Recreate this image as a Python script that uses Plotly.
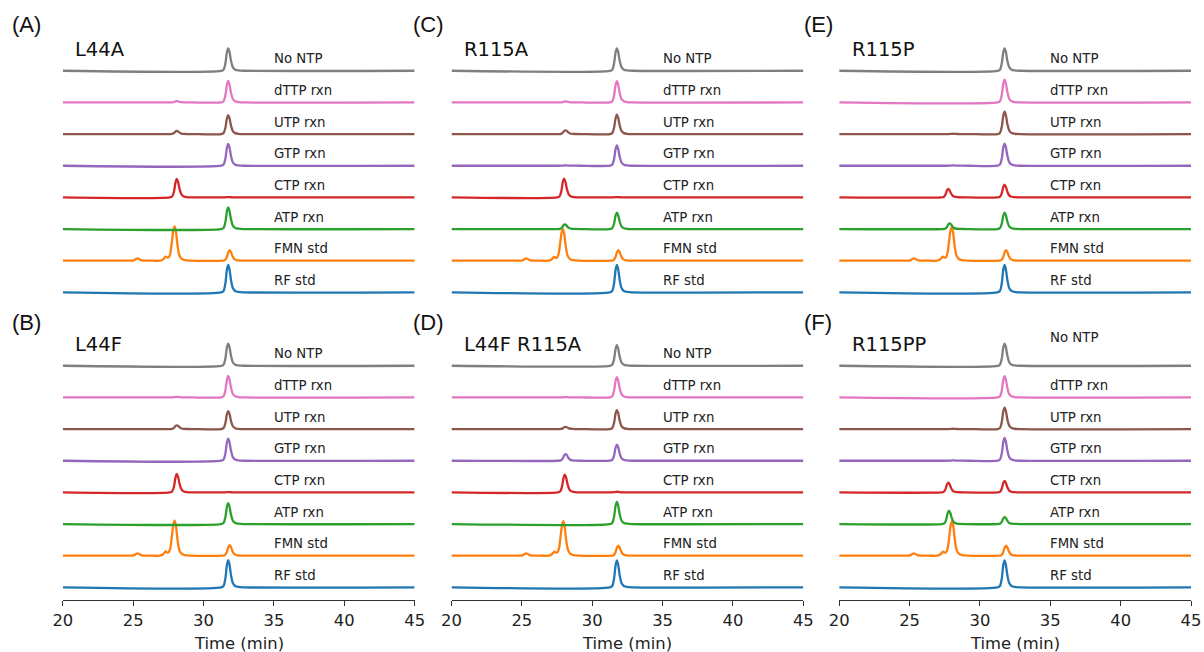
import plotly.graph_objects as go

# ---------------- data ----------------
T_START, T_END = 20.0, 45.0
X_TICKS = [20, 25, 30, 35, 40, 45]

# traces, bottom to top
LABELS = ["RF std", "FMN std", "ATP rxn", "CTP rxn", "GTP rxn", "UTP rxn", "dTTP rxn", "No NTP"]
COLORS = ["#1f77b4", "#ff7f0e", "#2ca02c", "#d62728", "#9467bd", "#8c564b", "#e377c2", "#7f7f7f"]

PANEL_TAGS = ["(A)", "(B)", "(C)", "(D)", "(E)", "(F)"]
MUTANTS = ["L44A", "L44F", "R115A", "L44F R115A", "R115P", "R115PP"]

# riboflavin peak (~31.75 min) retention time per trace
RF_TIMES = [31.75, 31.85, 31.75, 31.75, 31.75, 31.75, 31.75, 31.75]

# riboflavin peak heights (in units of trace spacing), order as LABELS
RF_A = [0.87, 0.33, 0.68, 0.01, 0.69, 0.60, 0.68, 0.71]
RF_B = [0.86, 0.33, 0.66, 0.01, 0.70, 0.57, 0.68, 0.70]
RF_C = [0.87, 0.33, 0.52, 0.01, 0.64, 0.61, 0.67, 0.71]
RF_D = [0.85, 0.32, 0.70, 0.02, 0.51, 0.60, 0.64, 0.65]
RF_E = [0.87, 0.33, 0.52, 0.40, 0.70, 0.71, 0.72, 0.71]
RF_F = [0.85, 0.32, 0.22, 0.36, 0.72, 0.68, 0.67, 0.70]

# early (~28 min) peak heights, order as LABELS (FMN std = FMN main peak)
EARLY_A = [0.0, 1.08, 0.0, 0.58, 0.0, 0.10, 0.04, 0.0]
EARLY_B = [0.0, 1.11, 0.0, 0.58, 0.0, 0.12, 0.02, 0.0]
EARLY_C = [0.0, 1.00, 0.15, 0.59, 0.01, 0.12, 0.03, 0.0]
EARLY_D = [0.0, 1.09, 0.0, 0.56, 0.21, 0.07, 0.01, 0.0]
EARLY_E = [0.0, 1.06, 0.18, 0.27, 0.01, 0.01, 0.0, 0.0]
EARLY_F = [0.0, 1.09, 0.42, 0.31, 0.01, 0.01, 0.0, 0.0]

# early peak retention times (min), order as LABELS
ETIME_A = [28.1, 27.95, 28.1, 28.1, 28.1, 28.1, 28.1, 28.1]
ETIME_B = [28.1, 27.95, 28.1, 28.1, 28.1, 28.1, 28.1, 28.1]
ETIME_C = [28.1, 27.92, 28.05, 28.0, 28.1, 28.1, 28.1, 28.1]
ETIME_D = [28.1, 27.95, 28.1, 28.05, 28.1, 28.1, 28.1, 28.1]
ETIME_E = [28.1, 28.0, 27.85, 27.75, 28.1, 28.1, 28.1, 28.1]
ETIME_F = [28.1, 28.02, 27.8, 27.75, 28.1, 28.1, 28.1, 28.1]

# small FMN-standard impurity peak
FMN_MINOR_TIME = 25.3
FMN_MINOR_HEIGHT = 0.07

# measured peak profile (time offset from apex, fraction of apex height)
PEAK_DT = [-0.5, -0.33, -0.2, -0.09, 0.0, 0.09, 0.2, 0.33, 0.5, 0.72, 1.1]
PEAK_REL = [0.0, 0.05, 0.32, 0.82, 1.0, 0.85, 0.45, 0.16, 0.05, 0.015, 0.0]

# measured FMN main peak profile with its leading shoulder
FMN_DT = [-1.05, -0.82, -0.64, -0.52, -0.42, -0.31, -0.2, -0.09, 0.0, 0.09, 0.2, 0.33, 0.5, 0.72, 1.1]
FMN_REL = [0.0, 0.04, 0.12, 0.09, 0.10, 0.22, 0.55, 0.9, 1.0, 0.85, 0.45, 0.16, 0.05, 0.015, 0.0]

RF_HEIGHTS = [RF_A, RF_B, RF_C, RF_D, RF_E, RF_F]
EARLY_HEIGHTS = [EARLY_A, EARLY_B, EARLY_C, EARLY_D, EARLY_E, EARLY_F]
EARLY_TIMES = [ETIME_A, ETIME_B, ETIME_C, ETIME_D, ETIME_E, ETIME_F]

# ---------------- layout geometry ----------------
W, H = 1204, 652
# page offset/width observed in the rendered screenshot (horizontal)
PAGE_X0, PAGE_W = 8.0, 1188.0
COL_PX = [(61, 414), (451, 804), (840, 1193)]
ROW_PX = [(35, 305), (330, 600)]  # top, bottom pixel of each row
Y_RANGE = [-0.4, 8.13]

FONT = "DejaVu Sans"


def fx(px):
    return (px - PAGE_X0) / PAGE_W


def fy(px):
    return 1 - px / H


def build_trace(segments):
    """segments: list of (apex_time, height, dt_list, rel_list); non-overlapping."""
    xs, ys = [T_START], [0.0]
    for t0, h, dts, rels in sorted(segments, key=lambda s: s[0]):
        if h <= 0:
            continue
        for dt, r in zip(dts, rels):
            xs.append(t0 + dt)
            ys.append(h * r)
    xs.append(T_END)
    ys.append(0.0)
    return xs, ys


fig = go.Figure()
annotations = []

# panel ordering: columns A/B, C/D, E/F -> panel index p: col = p // 2, row = p % 2
for p in range(6):
    col, row = p // 2, p % 2
    ax_id = p + 1
    xname = "x" if ax_id == 1 else f"x{ax_id}"
    yname = "y" if ax_id == 1 else f"y{ax_id}"
    x0, x1 = COL_PX[col]
    top, bot = ROW_PX[row]

    for i, lab in enumerate(LABELS):
        segs = [(RF_TIMES[i], RF_HEIGHTS[p][i], PEAK_DT, PEAK_REL)]
        if lab == "FMN std":
            segs.append((EARLY_TIMES[p][i], EARLY_HEIGHTS[p][i], FMN_DT, FMN_REL))
            segs.append((FMN_MINOR_TIME, FMN_MINOR_HEIGHT, PEAK_DT, PEAK_REL))
        else:
            segs.append((EARLY_TIMES[p][i], EARLY_HEIGHTS[p][i], PEAK_DT, PEAK_REL))
        xs, ys = build_trace(segs)
        ys = [v + i for v in ys]
        fig.add_trace(go.Scatter(
            x=xs, y=ys, mode="lines", xaxis=xname, yaxis=yname,
            line=dict(color=COLORS[i], width=2.3, shape="spline", smoothing=0.8),
            showlegend=False, hoverinfo="skip"))

        ly = i + 0.38
        if p == 5 and lab == "No NTP":
            ly = i + 0.88
        annotations.append(dict(
            x=34.87, y=ly, xref=xname, yref=yname, text=lab, showarrow=False,
            xanchor="left", yanchor="middle",
            font=dict(family=FONT, size=13.3, color="#222")))

    # mutant title
    annotations.append(dict(
        x=20.75, y=7.68, xref=xname, yref=yname, text=MUTANTS[p], showarrow=False,
        xanchor="left", yanchor="middle",
        font=dict(family=FONT, size=19.5, color="#111")))

    # panel tag
    tag_x = [8, 410, 803][col]
    tag_y = [24, 322][row]
    annotations.append(dict(
        x=fx(tag_x), y=fy(tag_y), xref="paper", yref="paper", text=PANEL_TAGS[p],
        showarrow=False, xanchor="left", yanchor="middle",
        font=dict(family="Liberation Sans", size=22, color="#111")))

    xaxis = dict(
        domain=[fx(x0), fx(x1)], range=[T_START, T_END], anchor=yname,
        showgrid=False, zeroline=False,
        tickmode="array", tickvals=X_TICKS, ticktext=[str(t) for t in X_TICKS],
        ticks="outside", ticklen=5, tickwidth=1.3, tickcolor="#333",
        showline=True, linecolor="#333", linewidth=1.3,
        tickfont=dict(family=FONT, size=16.4, color="#222"),
        visible=(row == 1), fixedrange=True)
    yaxis = dict(
        domain=[fy(bot), fy(top)], range=Y_RANGE, anchor=xname,
        visible=False, showgrid=False, zeroline=False, fixedrange=True)
    key = "" if ax_id == 1 else str(ax_id)
    fig.layout["xaxis" + key] = xaxis
    fig.layout["yaxis" + key] = yaxis

    if row == 1:
        annotations.append(dict(
            x=fx((x0 + x1) / 2), y=fy(643), xref="paper", yref="paper",
            text="Time (min)", showarrow=False, xanchor="center", yanchor="middle",
            font=dict(family=FONT, size=16.4, color="#222")))

fig.update_layout(
    width=W, height=H, margin=dict(l=0, r=0, t=0, b=0),
    paper_bgcolor="white", plot_bgcolor="white",
    annotations=annotations, showlegend=False)

fig.write_html("out.html")
